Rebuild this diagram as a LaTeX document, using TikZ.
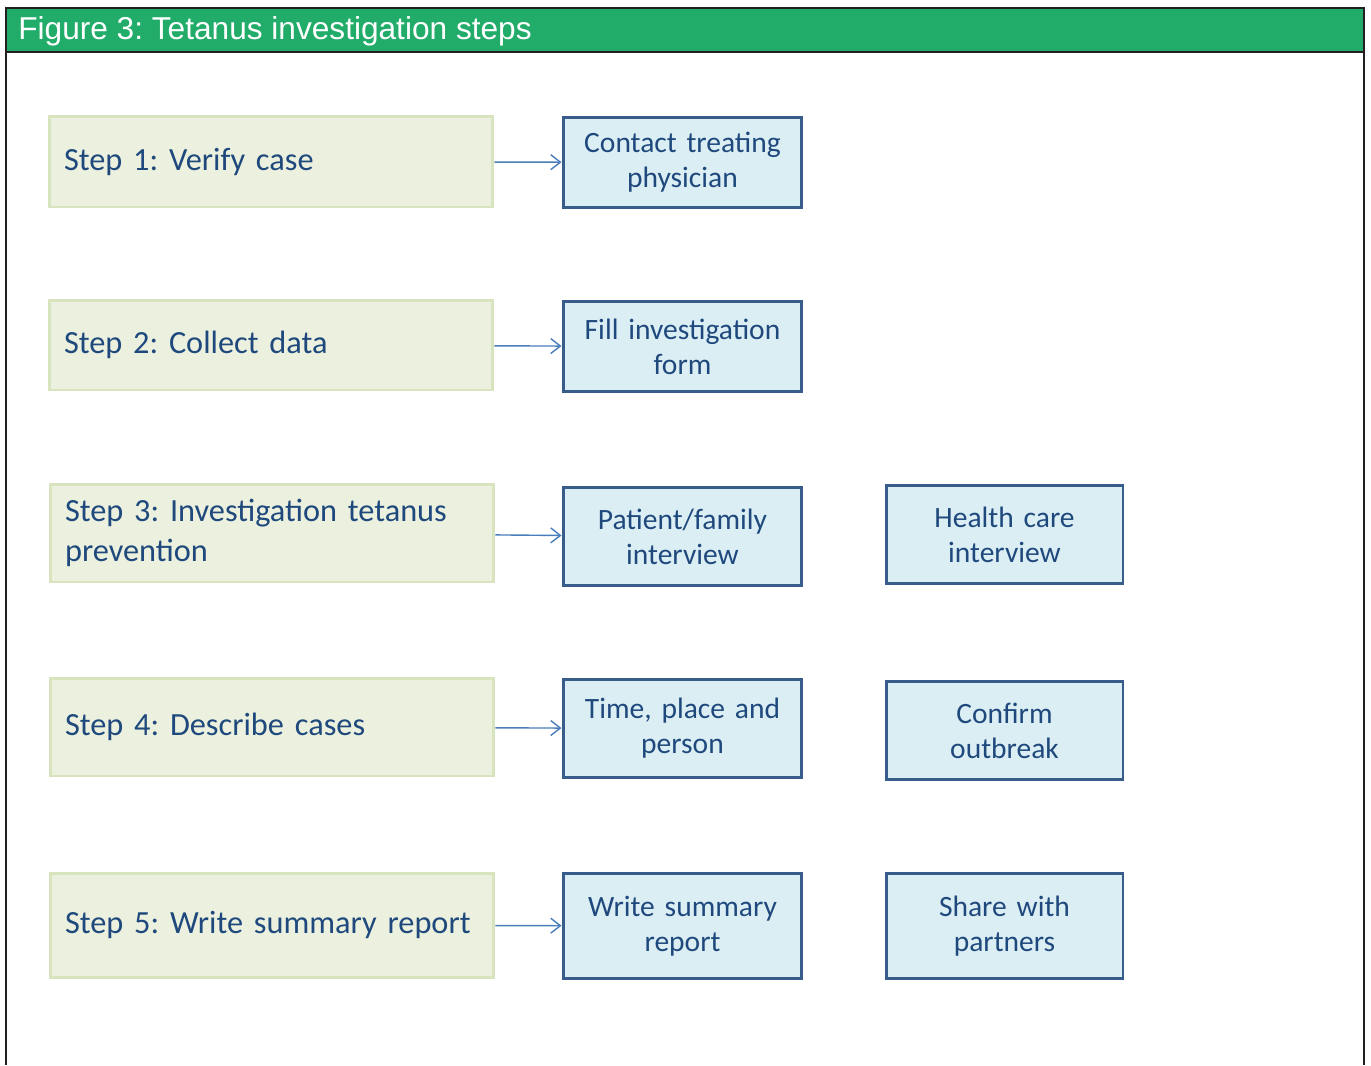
\documentclass[tikz,border=0pt]{standalone}
\usepackage{fontspec}
\setmainfont{Carlito}
\newfontfamily\headfont{Liberation Sans}
\usetikzlibrary{arrows.meta, positioning}
\definecolor{headgreen}{HTML}{21AC69}
\definecolor{frameline}{HTML}{231F20}
\definecolor{stepfill}{HTML}{EBF1DE}
\definecolor{stepline}{HTML}{D7E4BD}
\definecolor{taskfill}{HTML}{DBEEF4}
\definecolor{taskline}{HTML}{385D8A}
\definecolor{navy}{HTML}{1F497D}
\definecolor{arrowblue}{HTML}{4A7EBB}
\frenchspacing
\hyphenpenalty=10000

\begin{document}
\begin{tikzpicture}[x=0.02cm, y=-0.02cm,
  stepbox/.style={draw=stepline, line width=1.7pt, fill=stepfill, text=navy,
    font=\fontsize{18.4}{22.8}\selectfont, align=left, text width=8.28cm,
    inner xsep=0.3cm, inner ysep=0pt},
  taskbox/.style={draw=taskline, line width=1.7pt, fill=taskfill, text=navy,
    font=\fontsize{16.8}{20}\selectfont, align=center, text width=4.2cm,
    inner sep=0pt},
  flow/.style={-{Straight Barb[length=5.5pt, width=8.5pt]}, arrowblue, line width=0.8pt}]
  \useasboundingbox (0,0) rectangle (1371,1065);

  % Frame and title bar
  \fill[headgreen] (6,8) rectangle (1364,52);
  \draw[frameline, line width=1.4pt] (6,1065) -- (6,8) -- (1364,8) -- (1364,1065);
  \draw[frameline, line width=1.4pt] (6,52) -- (1364,52);
  \node[anchor=west, inner sep=0pt, text=white,
        font=\headfont\fontsize{18}{20}\selectfont] (title) at (18,31)
    {Figure 3: Tetanus investigation steps};

  % Steps
  \node[stepbox, minimum height=1.82cm] (verify)   at (271,161.5) {Step 1: Verify case};
  \node[stepbox, minimum height=1.80cm] (collect)  at (271,345)   {Step 2: Collect data};
  \node[stepbox, minimum height=1.96cm] (prevent)  at (272,533)   {Step 3: Investigation tetanus\\prevention};
  \node[stepbox, minimum height=1.96cm] (describe) at (272,727)   {Step 4: Describe cases};
  \node[stepbox, minimum height=2.08cm] (report)   at (272,925)   {Step 5: Write summary report};

  % Tasks, first column
  \node[taskbox, minimum width=4.78cm, minimum height=1.80cm] (contact)   at (682.5,162.5) {Contact treating\\physician};
  \node[taskbox, minimum width=4.78cm, minimum height=1.80cm] (form)      at (682.5,346.5) {Fill investigation\\form};
  \node[taskbox, minimum width=4.78cm, minimum height=1.96cm] (interview) at (682.5,536.5) {Patient/family\\interview};
  \node[taskbox, minimum width=4.78cm, minimum height=1.96cm] (tpp)       at (682.5,728.5) {Time, place and\\person};
  \node[taskbox, minimum width=4.78cm, minimum height=2.10cm] (summary)   at (682.5,926)   {Write summary\\report};

  % Tasks, second column
  \node[taskbox, minimum width=4.74cm, minimum height=1.96cm] (healthcare) at (1004.5,534.5) {Health care\\interview};
  \node[taskbox, minimum width=4.74cm, minimum height=1.96cm] (outbreak)   at (1004.5,730.5) {Confirm\\outbreak};
  \node[taskbox, minimum width=4.74cm, minimum height=2.10cm] (share)      at (1004.5,926)   {Share with\\partners};

  % Step to task
  \draw[flow] (verify) -- (contact);
  \draw[flow] (collect) -- (form);
  \draw[flow] (prevent) -- (interview);
  \draw[flow] (describe) -- (tpp);
  \draw[flow] (report) -- (summary);
\end{tikzpicture}
\end{document}
